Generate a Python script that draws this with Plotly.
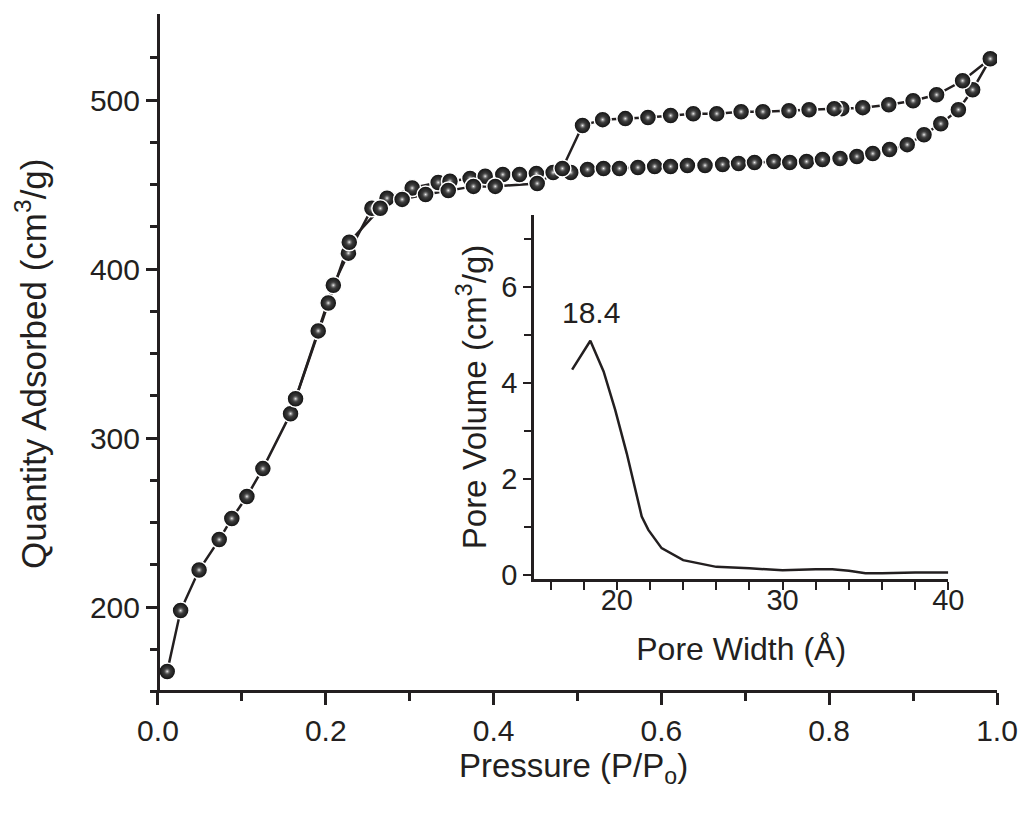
import plotly.graph_objects as go

# Main isotherm: adsorption branch (P/Po, quantity adsorbed cm3/g)
ads_p = [0.011, 0.027, 0.049, 0.073, 0.088, 0.106, 0.125, 0.158, 0.191, 0.209, 0.227,
         0.255, 0.273, 0.303, 0.334, 0.348, 0.372, 0.390, 0.411, 0.431, 0.451, 0.471,
         0.492, 0.512, 0.531, 0.550, 0.572, 0.592, 0.611, 0.631, 0.652, 0.673, 0.692,
         0.711, 0.734, 0.753, 0.773, 0.792, 0.813, 0.833, 0.852, 0.872, 0.893, 0.913,
         0.933, 0.954, 0.971, 0.992]
ads_q = [162, 198, 222, 240, 252.5, 265.5, 282, 314.5, 363.5, 390.5, 409.5,
         436, 442, 448, 451.3, 452, 453.7, 455, 456, 456, 456.6, 457.2,
         457.2, 459, 459.6, 459.6, 460.2, 460.8, 460.8, 461.4, 461.4, 462, 462.5,
         463.1, 463.7, 463.1, 463.7, 464.9, 465.5, 466.7, 468.4, 470.8, 473.7, 479.6,
         486.1, 494.4, 506.2, 524.5]

# Desorption branch
des_p = [0.992, 0.959, 0.928, 0.900, 0.871, 0.840, 0.815, 0.806, 0.776, 0.752, 0.721,
         0.695, 0.666, 0.638, 0.611, 0.584, 0.557, 0.530, 0.506, 0.482, 0.452, 0.402,
         0.376, 0.346, 0.319, 0.291, 0.265, 0.228, 0.203, 0.164]
des_q = [524.5, 511.5, 503.2, 499.7, 497.3, 495.6, 495, 495, 494.4, 493.8, 493.2,
         493.2, 492, 492, 490.9, 489.7, 489.1, 488.5, 485, 459.6, 450.7, 449,
         449, 446.6, 444.2, 441.3, 436, 416, 380, 323.3]

# Inset: pore size distribution
pore_w = [17.3, 18.4, 19.2, 19.9, 20.6, 21.5, 21.9, 22.7, 24.0, 26.0, 28.0, 30.0,
          32.0, 33.0, 34.0, 35.0, 36.0, 38.0, 40.0]
pore_v = [4.28, 4.88, 4.24, 3.44, 2.53, 1.22, 0.94, 0.56, 0.31, 0.17, 0.14, 0.10,
          0.12, 0.12, 0.09, 0.035, 0.035, 0.055, 0.055]
peak_label = "18.4"

FONT = "Liberation Sans, Arial, sans-serif"
INK = "#231f20"

fig = go.Figure()

series = [(ads_p, ads_q), (des_p, des_q)]
for px_, py_ in series:
    fig.add_trace(go.Scatter(x=px_, y=py_, mode="lines",
                             line=dict(color=INK, width=2.5),
                             hoverinfo="skip", showlegend=False))
for px_, py_ in series:
    # sphere-like markers: in plotly the gradient colour sits at the centre
    fig.add_trace(go.Scatter(
        x=px_, y=py_, mode="markers", showlegend=False,
        marker=dict(size=17, color="#0c0c0c",
                    gradient=dict(type="radial", color="#5a5a5a"),
                    line=dict(color="white", width=1.5))))
    fig.add_trace(go.Scatter(
        x=px_, y=py_, mode="markers", showlegend=False, hoverinfo="skip",
        marker=dict(size=7, color="rgba(90,90,90,0)",
                    gradient=dict(type="radial", color="#f2f2f2"),
                    line=dict(width=0))))

fig.add_trace(go.Scatter(x=pore_w, y=pore_v, mode="lines", xaxis="x2", yaxis="y2",
                         line=dict(color=INK, width=2.5), showlegend=False))

fig.add_annotation(x=pore_w[1], y=pore_v[1], xref="x2", yref="y2", text=peak_label,
                   showarrow=False, yshift=28, xshift=1,
                   font=dict(family=FONT, size=30, color=INK))

fig.add_annotation(x=31 / 1022, y=1 - 364 / 814, xref="paper", yref="paper",
                   text="Quantity Adsorbed (cm<sup>3</sup>/g)", textangle=-90,
                   showarrow=False, xanchor="center", yanchor="middle",
                   font=dict(family=FONT, size=35, color=INK))

main_x_dom = [150 / 1022, 997 / 1022]
main_y_dom = [1 - 690 / 814, 1 - 14 / 814]
ins_x_dom = [534 / 1022, 948.3 / 1022]
ins_y_dom = [1 - 579 / 814, 1 - 215 / 814]

fig.update_layout(
    width=1022, height=814,
    margin=dict(l=0, r=0, t=0, b=0),
    paper_bgcolor="white", plot_bgcolor="rgba(0,0,0,0)",
    font=dict(family=FONT, color=INK),
    xaxis=dict(domain=main_x_dom, range=[-0.0095, 1.0], anchor="y", automargin=False,
               showgrid=False, zeroline=False, showline=True, linecolor=INK, linewidth=3,
               ticks="outside", ticklen=12, tickwidth=2.5, tickcolor=INK,
               tickvals=[0, 0.2, 0.4, 0.6, 0.8, 1.0],
               ticktext=["0.0", "0.2", "0.4", "0.6", "0.8", "1.0"],
               minor=dict(tickvals=[0.1, 0.3, 0.5, 0.7, 0.9], ticks="outside",
                          ticklen=8, tickwidth=2.5, tickcolor=INK),
               tickfont=dict(size=30, family=FONT, color=INK),
               title=dict(text="Pressure (P/P<sub>o</sub>)", standoff=7,
                          font=dict(size=33, family=FONT, color=INK))),
    yaxis=dict(domain=main_y_dom, range=[151, 551], anchor="free", automargin=False,
               position=158 / 1022,
               showgrid=False, zeroline=False, showline=True, linecolor=INK, linewidth=3,
               ticks="outside", ticklen=11, tickwidth=2.5, tickcolor=INK,
               tickvals=[200, 300, 400, 500],
               minor=dict(tickvals=[175, 225, 250, 275, 325, 350, 375, 425, 450, 475, 525],
                          ticks="outside", ticklen=7, tickwidth=2.5, tickcolor=INK),
               tickfont=dict(size=30, family=FONT, color=INK)),
    xaxis2=dict(domain=ins_x_dom, range=[15, 40], anchor="y2", automargin=False,
                showgrid=False, zeroline=False, showline=True, linecolor=INK, linewidth=2.5,
                ticks="outside", ticklen=8, tickwidth=2, tickcolor=INK,
                tickvals=[20, 30, 40], ticklabelstandoff=-15,
                minor=dict(tickvals=[16, 18, 22, 24, 26, 28, 32, 34, 36, 38],
                           ticks="outside", ticklen=8, tickwidth=2, tickcolor=INK),
                tickfont=dict(size=29, family=FONT, color=INK),
                title=dict(text="Pore Width (Å)", standoff=24,
                           font=dict(size=32, family=FONT, color=INK))),
    yaxis2=dict(domain=ins_y_dom, range=[-0.083, 7.5], anchor="x2", automargin=False,
                showgrid=False, zeroline=False, showline=True, linecolor=INK, linewidth=2.5,
                ticks="outside", ticklen=8, tickwidth=2, tickcolor=INK,
                tickvals=[0, 2, 4, 6],
                minor=dict(tickvals=[1, 3, 5, 7], ticks="outside",
                           ticklen=7, tickwidth=2, tickcolor=INK),
                tickfont=dict(size=29, family=FONT, color=INK),
                title=dict(text="Pore Volume (cm<sup>3</sup>/g)", standoff=5,
                           font=dict(size=33, family=FONT, color=INK))),
)

fig.write_html("out.html")
